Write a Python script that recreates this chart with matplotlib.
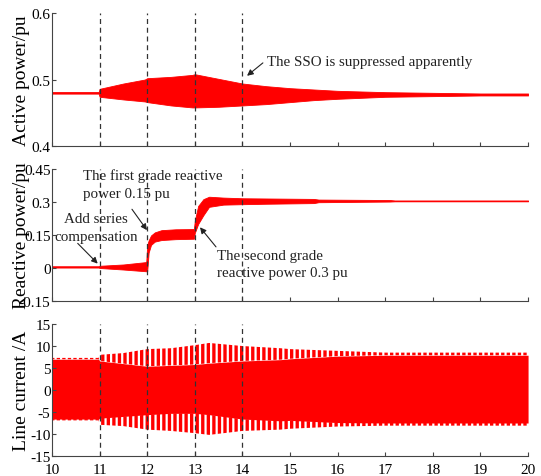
import numpy as np
import matplotlib.pyplot as plt

plt.rcParams['font.family'] = ['Liberation Serif', 'DejaVu Serif']
plt.rcParams['hatch.linewidth'] = 2.4

# ── Data (envelopes) ─────────────────────────────────────────────────────────
event_t = [11, 12, 13, 14]
x_ticks = [10, 11, 12, 13, 14, 15, 16, 17, 18, 19, 20]

# active power envelope, pu
p_t  = [10.0, 10.98, 11.0, 11.5, 11.95, 12.0, 12.5, 12.95, 13.0, 13.5, 14.0, 14.5, 15.0, 15.5, 16.0, 17.0, 18.0, 19.0, 20.0]
p_hi = [0.4812, 0.4812, 0.486, 0.494, 0.500, 0.502, 0.504, 0.507, 0.508, 0.501, 0.494, 0.490, 0.487, 0.485, 0.483, 0.481, 0.480, 0.479, 0.479]
p_lo = [0.4788, 0.4788, 0.474, 0.470, 0.467, 0.466, 0.461, 0.458, 0.458, 0.459, 0.461, 0.463, 0.466, 0.469, 0.471, 0.474, 0.475, 0.476, 0.476]

# reactive power envelope, pu
q_t  = [10.0, 10.98, 11.0, 11.5, 11.98, 12.0, 12.03, 12.08, 12.16, 12.3, 12.6, 12.98, 13.0, 13.07, 13.18, 13.3, 13.6, 14.0, 14.5, 15.5, 15.6, 17.1, 17.2, 20.0]
q_hi = [0.008, 0.008, 0.010, 0.016, 0.027, 0.105, 0.125, 0.148, 0.162, 0.172, 0.176, 0.177, 0.215, 0.282, 0.313, 0.324, 0.320, 0.317, 0.316, 0.314, 0.311, 0.309, 0.307, 0.307]
q_lo = [0.002, 0.002, 0.000, -0.007, -0.015, -0.015, 0.070, 0.105, 0.120, 0.127, 0.131, 0.133, 0.160, 0.200, 0.240, 0.278, 0.288, 0.290, 0.292, 0.295, 0.299, 0.302, 0.303, 0.303]

# line current envelope, A (peaks of the beating and the solid core)
i_t       = [10.0, 10.98, 11.0, 11.5, 12.0, 12.5, 13.0, 13.3, 14.0, 14.8, 15.0, 16.0, 17.0, 18.0, 19.0, 20.0]
i_peak_hi = [7.3, 7.3, 8.0, 8.4, 9.3, 9.5, 10.2, 10.7, 10.0, 9.5, 9.3, 8.9, 8.5, 8.5, 8.5, 8.5]
i_core_hi = [7.0, 7.0, 6.6, 6.0, 5.4, 5.6, 5.8, 6.1, 6.6, 6.9, 7.1, 7.7, 7.9, 7.9, 7.9, 7.9]
i_core_lo = [-6.6, -6.6, -6.4, -6.0, -5.6, -5.3, -5.3, -5.6, -6.6, -7.0, -6.9, -7.4, -7.5, -7.5, -7.5, -7.5]
i_peak_lo = [-6.9, -6.9, -7.9, -8.2, -9.0, -9.3, -9.8, -10.2, -9.3, -9.0, -8.8, -8.3, -8.1, -8.1, -8.1, -8.1]

RED = '#ff0000'

# ── Figure ───────────────────────────────────────────────────────────────────
fig = plt.figure(figsize=(5.41, 4.77), dpi=100)
ax_p = fig.add_axes([0.0961, 0.6918, 0.880, 0.2788])
ax_q = fig.add_axes([0.0961, 0.3669, 0.880, 0.2767])
ax_i = fig.add_axes([0.0961, 0.0419, 0.880, 0.2767])

ax_p.fill_between(p_t, p_lo, p_hi, color=RED, lw=0.6)
ax_q.fill_between(q_t, q_lo, q_hi, color=RED, lw=0.6)

ax_i.fill_between(i_t, i_core_lo, i_core_hi, color=RED, lw=0)
for lo, hi in [(i_core_hi, i_peak_hi), (i_peak_lo, i_core_lo)]:
    ax_i.fill_between(i_t, lo, hi, facecolor='none', edgecolor=RED,
                      hatch='|||', lw=0)

setup = [
    (ax_p, (0.4, 0.6), [0.4, 0.5, 0.6], 'Active power/pu'),
    (ax_q, (-0.15, 0.45), [-0.15, 0, 0.15, 0.3, 0.45], 'Reactive power/pu'),
    (ax_i, (-15, 15), [-15, -10, -5, 0, 5, 10, 15], 'Line current /A'),
]
for ax, ylim, yticks, ylabel in setup:
    for t in event_t:
        ax.axvline(t, color='#333333', lw=0.9, ls=(0, (4, 3)), zorder=3)
    ax.set_xlim(10, 20)
    ax.set_ylim(*ylim)
    ax.set_xticks(x_ticks)
    ax.set_yticks(yticks)
    ax.set_yticklabels([f'{v:g}' for v in yticks])
    ax.spines[['top', 'right']].set_visible(False)
    for s in ('left', 'bottom'):
        ax.spines[s].set_color('#444444')
        ax.spines[s].set_linewidth(0.8)
    ax.tick_params(direction='in', length=3, width=0.8, color='#444444',
                   labelsize=11, pad=1)
    ax.set_ylabel(ylabel, fontsize=14)
    ax.yaxis.set_label_coords(-0.046, 0.5)

ax_p.tick_params(labelbottom=False)
ax_q.tick_params(labelbottom=False)
ax_i.tick_params(axis='x', pad=5)

# ── Annotations ──────────────────────────────────────────────────────────────
arrow = dict(arrowstyle='-|>', color='#222222', lw=0.8, mutation_scale=9,
             shrinkA=0, shrinkB=0)
txt = dict(fontsize=10.8, color='#222222', linespacing=1.45)

ax_p.annotate('', xy=(14.097, 0.5056), xytext=(14.43, 0.525), arrowprops=arrow)
ax_p.text(14.52, 0.5266, 'The SSO is suppressed apparently', va='center', **txt)

ax_q.annotate('', xy=(10.96, 0.02), xytext=(10.54, 0.112), arrowprops=arrow)
ax_q.text(10.924, 0.183, 'Add series\ncompensation', ha='center',
          va='center', multialignment='center', **txt)

ax_q.annotate('', xy=(11.995, 0.172), xytext=(11.68, 0.267), arrowprops=arrow)
ax_q.text(10.658, 0.381, 'The first grade reactive\npower 0.15 pu',
          va='center', **txt)

ax_q.annotate('', xy=(13.109, 0.185), xytext=(13.445, 0.096), arrowprops=arrow)
ax_q.text(13.456, 0.018, 'The second grade\nreactive power 0.3 pu',
          va='center', **txt)

fig.savefig('out.png', dpi=100)
